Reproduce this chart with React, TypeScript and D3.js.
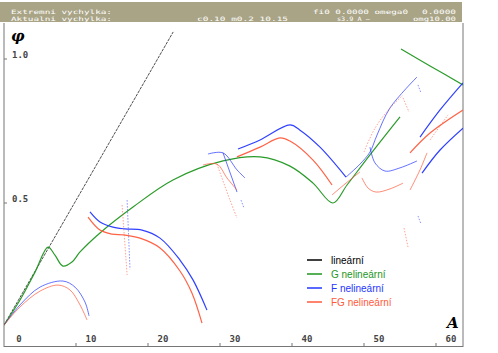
import React from 'react';
import * as d3 from 'd3';

type Pt = [number, number];

// amplitude A (x) vs phase phi (y)
const linear: Pt[] = [[0, 0.076], [23.5, 1.094]];

const gMain: Pt[] = [
  [0, 0.076], [2.22, 0.163], [4.31, 0.26], [6.11, 0.347], [7.08, 0.319], [8.19, 0.281],
  [9.44, 0.295], [10.56, 0.33], [13.33, 0.396], [17.92, 0.486], [23.47, 0.58], [30.42, 0.646],
  [35.56, 0.66], [39.72, 0.628], [42.92, 0.569], [45.69, 0.5], [47.64, 0.5625], [50.83, 0.667], [55.0, 0.799],
];
const gUpper: Pt[] = [[55.14, 1.035], [59.17, 0.976], [63.75, 0.91]];

const fLow: Pt[] = [[0, 0.076], [2.22, 0.146], [5, 0.208], [8.19, 0.229], [9.86, 0.208], [11.25, 0.156], [11.81, 0.108]];
const fMid: Pt[] = [
  [11.94, 0.469], [13.33, 0.434], [15.0, 0.417], [16.8, 0.41], [19.17, 0.406], [21.67, 0.378],
  [24.44, 0.302], [26.25, 0.233], [28.19, 0.128],
];
const fMidDots: Pt[] = [[17.1, 0.51], [17.5, 0.27]];
const fJump: Pt[] = [[28.33, 0.67], [30.42, 0.674], [32.36, 0.615], [33.47, 0.587]];
const fJumpLight: Pt[] = [[30.42, 0.674], [32.36, 0.538]];
const fJumpDots: Pt[] = [[32.92, 0.51], [33.33, 0.483]];
const fUpper: Pt[] = [[32.5, 0.6875], [35.56, 0.719], [39.72, 0.771], [41.11, 0.753], [43.89, 0.694], [47.5, 0.59]];
const fRise: Pt[] = [[47.5, 0.59], [49.44, 0.635], [50.83, 0.677], [51.81, 0.736], [53.61, 0.83], [57.36, 0.9375]];
const fLowerArc: Pt[] = [[50.83, 0.694], [51.53, 0.639], [52.92, 0.611], [55.0, 0.622], [57.36, 0.646]];
const fDash: Pt[] = [[57.5, 0.91], [57.92, 0.882]];
const fRightA: Pt[] = [[57.78, 0.729], [60.56, 0.823], [63.75, 0.917]];
const fRightB: Pt[] = [[58.06, 0.604], [60.56, 0.684], [63.75, 0.76]];
const fDots: Pt[] = [[57.5, 0.455], [57.92, 0.427]];

const fgLow: Pt[] = [[0, 0.076], [2.22, 0.139], [5, 0.194], [7.5, 0.215], [9.17, 0.198], [10.56, 0.146], [11.53, 0.094]];
const fgMid: Pt[] = [
  [11.67, 0.451], [13.33, 0.406], [15.0, 0.392], [16.67, 0.389], [18.89, 0.378], [21.67, 0.344],
  [24.44, 0.264], [26.1, 0.1875], [27.5, 0.083],
];
const fgMidDots: Pt[] = [[16.4, 0.493], [17.1, 0.25]];
const fgJump: Pt[] = [[27.64, 0.632], [29.58, 0.635], [30.97, 0.587], [32.36, 0.545]];
const fgJumpLight: Pt[] = [[29.58, 0.635], [31.39, 0.51], [32.36, 0.448]];
const fgUpper: Pt[] = [[32.36, 0.66], [35.56, 0.694], [38.33, 0.726], [39.72, 0.715], [42.92, 0.649], [45.56, 0.5625]];
const fgRise: Pt[] = [[45.56, 0.528], [47.36, 0.566], [49.44, 0.608]];
const fgRiseLight: Pt[] = [[50, 0.677], [51.53, 0.76], [53.61, 0.83], [55.42, 0.875]];
const fgDotsTop: Pt[] = [[55.42, 0.865], [56.25, 0.816]];
const fgLowerArc: Pt[] = [[49.72, 0.587], [50.56, 0.552], [51.67, 0.538], [53.61, 0.549], [55.42, 0.569]];
const fgRightC: Pt[] = [[56.39, 0.674], [59.17, 0.743], [63.75, 0.823]];
const fgRightD: Pt[] = [[56.39, 0.545], [57.78, 0.615], [58.75, 0.674]];
const fgDashes: Pt[] = [[59.17, 0.719], [61.67, 0.806]];
const fgDots: Pt[] = [[55.56, 0.413], [56.11, 0.347]];

const xTicks = [0, 10, 20, 30, 40, 50, 60];
const yTicks = [0.5, 1.0];

const GREEN = '#1e961e';
const BLUE = '#2436ff';
const RED = '#ff5a3c';

type Style = 'solid' | 'light' | 'dots' | 'dash';
const segments: { pts: Pt[]; color: string; style: Style }[] = [
  { pts: linear, color: '#222', style: 'dash' },
  { pts: gMain, color: GREEN, style: 'solid' },
  { pts: gUpper, color: GREEN, style: 'solid' },
  { pts: fLow, color: BLUE, style: 'light' },
  { pts: fMid, color: BLUE, style: 'solid' },
  { pts: fMidDots, color: BLUE, style: 'dots' },
  { pts: fJump, color: BLUE, style: 'light' },
  { pts: fJumpLight, color: BLUE, style: 'light' },
  { pts: fJumpDots, color: BLUE, style: 'dots' },
  { pts: fUpper, color: BLUE, style: 'solid' },
  { pts: fRise, color: BLUE, style: 'light' },
  { pts: fLowerArc, color: BLUE, style: 'light' },
  { pts: fDash, color: BLUE, style: 'dots' },
  { pts: fRightA, color: BLUE, style: 'solid' },
  { pts: fRightB, color: BLUE, style: 'solid' },
  { pts: fDots, color: BLUE, style: 'dots' },
  { pts: fgLow, color: RED, style: 'light' },
  { pts: fgMid, color: RED, style: 'solid' },
  { pts: fgMidDots, color: RED, style: 'dots' },
  { pts: fgJump, color: RED, style: 'light' },
  { pts: fgJumpLight, color: RED, style: 'dots' },
  { pts: fgUpper, color: RED, style: 'solid' },
  { pts: fgRise, color: RED, style: 'light' },
  { pts: fgRiseLight, color: RED, style: 'dots' },
  { pts: fgDotsTop, color: RED, style: 'dots' },
  { pts: fgLowerArc, color: RED, style: 'light' },
  { pts: fgRightC, color: RED, style: 'solid' },
  { pts: fgRightD, color: RED, style: 'light' },
  { pts: fgDashes, color: RED, style: 'dots' },
  { pts: fgDots, color: RED, style: 'dots' },
];

const legendItems = [
  { label: 'lineární', color: '#000' },
  { label: 'G nelineární', color: GREEN },
  { label: 'F nelineární', color: BLUE },
  { label: 'FG nelineární', color: RED },
];

const App: React.FC = () => {
  const W = 498, H = 353;
  const left = 4, right = 463, top = 22, bottom = 347;

  const x = d3.scaleLinear().domain([0, 63.75]).range([left, right]);
  const y = d3.scaleLinear().domain([0, 1]).range([bottom, 59]);

  const line = d3.line<Pt>()
    .x(d => x(d[0]))
    .y(d => y(d[1]))
    .curve(d3.curveCatmullRom.alpha(0.5));

  const headFont = "'DejaVu Sans Mono', monospace";
  const opacity = { solid: 0.95, light: 0.7, dots: 0.55, dash: 0.8 };

  return (
    <svg width={W} height={H} style={{ position: 'absolute', left: 0, top: 0, background: '#fff' }}>
      <defs>
        <clipPath id="plot">
          <rect x={left} y={top} width={right - left} height={bottom - top} />
        </clipPath>
      </defs>

      {/* header bar */}
      <rect x={0} y={2} width={right - 1} height={20} fill="#a9a486" />
      <g fill="#fff" fontFamily={headFont} fontSize={6}>
        <text x={11} y={13.5} textLength={101} lengthAdjust="spacingAndGlyphs">Extremni vychylka:</text>
        <text x={11} y={20.5} textLength={101} lengthAdjust="spacingAndGlyphs">Aktualni vychylka:</text>
        <text x={313} y={13.5} textLength={95} lengthAdjust="spacingAndGlyphs">fi0 0.0000 omega0</text>
        <text x={422} y={13.5} textLength={34} lengthAdjust="spacingAndGlyphs">0.0000</text>
        <text x={197} y={20.5} textLength={91} lengthAdjust="spacingAndGlyphs">c0.10 m0.2 10.15</text>
        <text x={337} y={20.5} textLength={33} lengthAdjust="spacingAndGlyphs">s3.9 A —</text>
        <text x={413} y={20.5} textLength={43} lengthAdjust="spacingAndGlyphs">omg10.00</text>
      </g>

      {/* frame */}
      <line x1={left} x2={left} y1={top + 1} y2={bottom} stroke="#777" />
      <line x1={right} x2={right} y1={top + 1} y2={bottom} stroke="#777" />
      <line x1={left} x2={right} y1={bottom - 0.5} y2={bottom - 0.5} stroke="#777" />

      {/* ticks */}
      <g fontFamily="'DejaVu Sans Mono', monospace" fontSize={9} fontWeight="bold" fill="#444">
        {xTicks.map(t => (
          <g key={t}>
            {t > 0 && <line x1={x(t)} x2={x(t)} y1={bottom - 4} y2={bottom} stroke="#777" />}
            <text x={x(t) + 15} y={bottom - 5} textAnchor="middle">{t}</text>
          </g>
        ))}
        {yTicks.map(t => (
          <g key={t}>
            <line x1={left} x2={left + 3} y1={y(t)} y2={y(t)} stroke="#777" />
            <text x={12} y={y(t) - 1}>{t.toFixed(1)}</text>
          </g>
        ))}
      </g>

      {/* curves */}
      <g clipPath="url(#plot)" fill="none">
        {segments.map((s, i) => (
          <path
            key={i}
            d={line(s.pts) || ''}
            stroke={s.color}
            strokeWidth={s.style === 'solid' ? 1.2 : 1}
            strokeOpacity={opacity[s.style]}
            strokeDasharray={s.style === 'dots' ? '1.5,1.5' : s.style === 'dash' ? '3,1' : undefined}
          />
        ))}
      </g>

      {/* axis titles */}
      <text x={11} y={41} fontFamily="'DejaVu Serif', serif" fontStyle="italic" fontWeight="bold" fontSize={15}>φ</text>
      <text x={447} y={328} fontFamily="'DejaVu Serif', serif" fontStyle="italic" fontWeight="bold" fontSize={15}>A</text>

      {/* legend */}
      <g fontFamily="'Liberation Sans', Arial, sans-serif" fontSize={10}>
        {legendItems.map((d, i) => (
          <g key={d.label} transform={`translate(307,${260 + i * 14})`}>
            <line x1={0} x2={15} y1={0} y2={0} stroke={d.color} strokeWidth={1.5} />
            <text x={24} y={4} fill={d.color}>{d.label}</text>
          </g>
        ))}
      </g>
    </svg>
  );
};

export default App;
